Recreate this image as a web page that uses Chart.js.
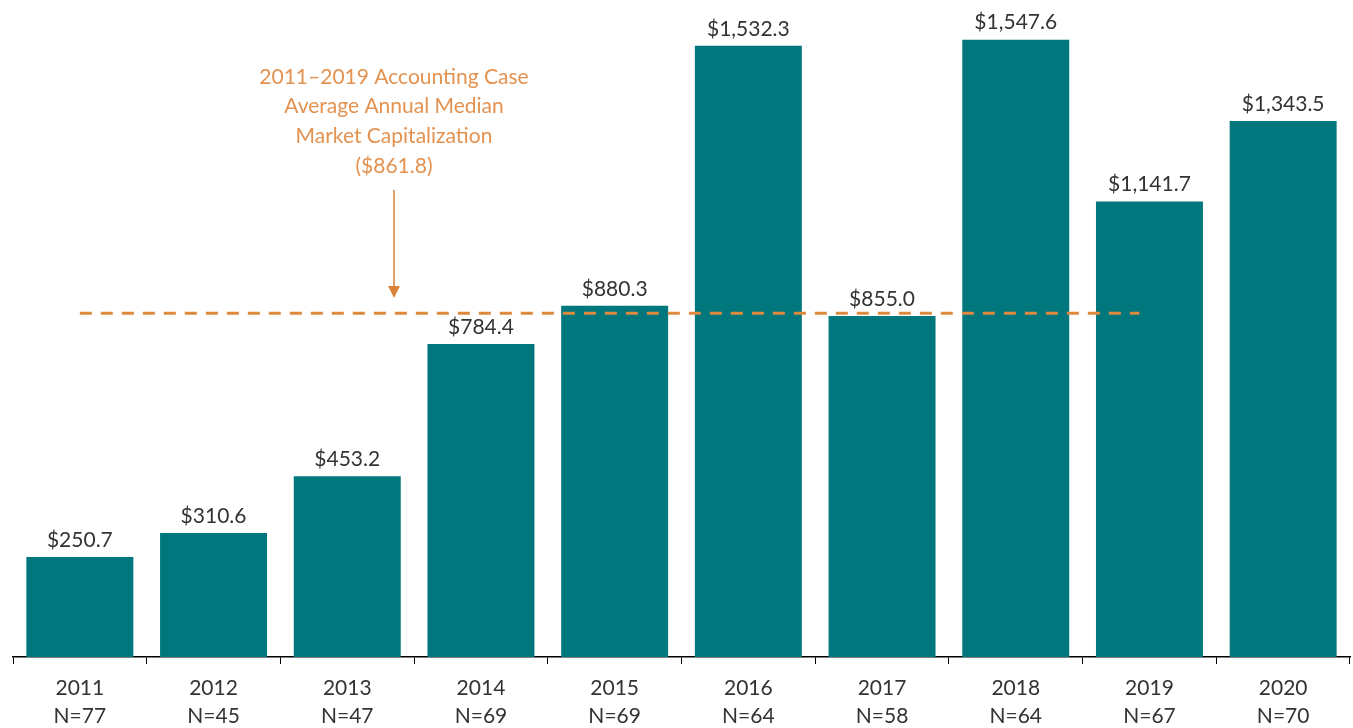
<!DOCTYPE html>
<html>
<head>
<meta charset="utf-8">
<script src="https://cdn.jsdelivr.net/npm/chart.js@4"></script>
<style>
html,body{margin:0;padding:0;background:#fff;}
#wrap{width:1353px;height:728px;}
</style>
</head>
<body>
<div id="wrap"><canvas id="c" width="1353" height="728"></canvas></div>
<script>
const years = ["2011","2012","2013","2014","2015","2016","2017","2018","2019","2020"];
const counts = ["N=77","N=45","N=47","N=69","N=69","N=64","N=58","N=64","N=67","N=70"];
const medianCap = [250.7, 310.6, 453.2, 784.4, 880.3, 1532.3, 855.0, 1547.6, 1141.7, 1343.5];
const avgValue = 861.8;
const avgFrom = "2011";
const avgTo = "2019";
const noteLines = ["2011\u20132019 Accounting Case", "Average Annual Median", "Market Capitalization", "($861.8)"];

const teal = "#00767D";
const orange = "#DD8A3F";
const font = "Lato, sans-serif";

function money(v){
return "$" + v.toLocaleString("en-US",{minimumFractionDigits:1,maximumFractionDigits:1});
}

// value labels above bars
const valueLabels = {
id:"valueLabels",
afterDatasetsDraw(chart){
let ctx = chart.ctx;
let meta = chart.getDatasetMeta(0);
ctx.save();
ctx.font = "21px " + font;
ctx.fillStyle = "#333";
ctx.textAlign = "center";
ctx.textBaseline = "middle";
meta.data.forEach((bar,i)=>{
ctx.fillText(money(medianCap[i]), bar.x, bar.y - 17);
});
ctx.restore();
}
};

// dashed average line with note and arrow
const avgLine = {
id:"avgLine",
afterDatasetsDraw(chart){
let ctx = chart.ctx;
let x = chart.scales.x;
let y = chart.scales.y;
let yy = y.getPixelForValue(avgValue);
let x0 = x.getPixelForValue(years.indexOf(avgFrom));
let x1 = x.getPixelForValue(years.indexOf(avgTo)) - 10;
ctx.save();
ctx.strokeStyle = orange;
ctx.lineWidth = 3;
ctx.setLineDash([12,9]);
ctx.beginPath();
ctx.moveTo(x0, yy);
ctx.lineTo(x1, yy);
ctx.stroke();

// note text
let nx = 394;
ctx.setLineDash([]);
ctx.font = "21px " + font;
ctx.fillStyle = "#E39250";
ctx.textAlign = "center";
ctx.textBaseline = "middle";
noteLines.forEach((t,i)=>{
ctx.fillText(t, nx, 77 + i*29.7);
});

// arrow
ctx.strokeStyle = "#D9843A";
ctx.fillStyle = "#D9843A";
ctx.lineWidth = 1.5;
ctx.beginPath();
ctx.moveTo(nx, 190);
ctx.lineTo(nx, 288);
ctx.stroke();
ctx.beginPath();
ctx.moveTo(nx-6, 286);
ctx.lineTo(nx+6, 286);
ctx.lineTo(nx, 298);
ctx.closePath();
ctx.fill();
ctx.restore();
}
};

new Chart(document.getElementById("c"),{
type:"bar",
data:{
labels: years.map((y,i)=>[y, counts[i]]),
datasets:[{
data: medianCap,
backgroundColor: teal,
borderWidth: 0,
barPercentage: 0.8,
categoryPercentage: 1.0
}]
},
options:{
responsive:false,
animation:false,
events:[],
layout:{padding:{left:13,right:3,top:0,bottom:0}},
plugins:{legend:{display:false},tooltip:{enabled:false}},
scales:{
x:{
offset:true,
afterFit(scale){ scale.height = 71; },
grid:{offset:true,drawOnChartArea:false,drawTicks:true,tickLength:7,color:"#000",lineWidth:1},
border:{display:true,color:"#000",width:1.5},
ticks:{color:"#333",font:{family:font,size:21,lineHeight:1.33},padding:10,maxRotation:0}
},
y:{
display:false,
min:0,
max:1647
}
}
},
plugins:[valueLabels, avgLine]
});
</script>
</body>
</html>
